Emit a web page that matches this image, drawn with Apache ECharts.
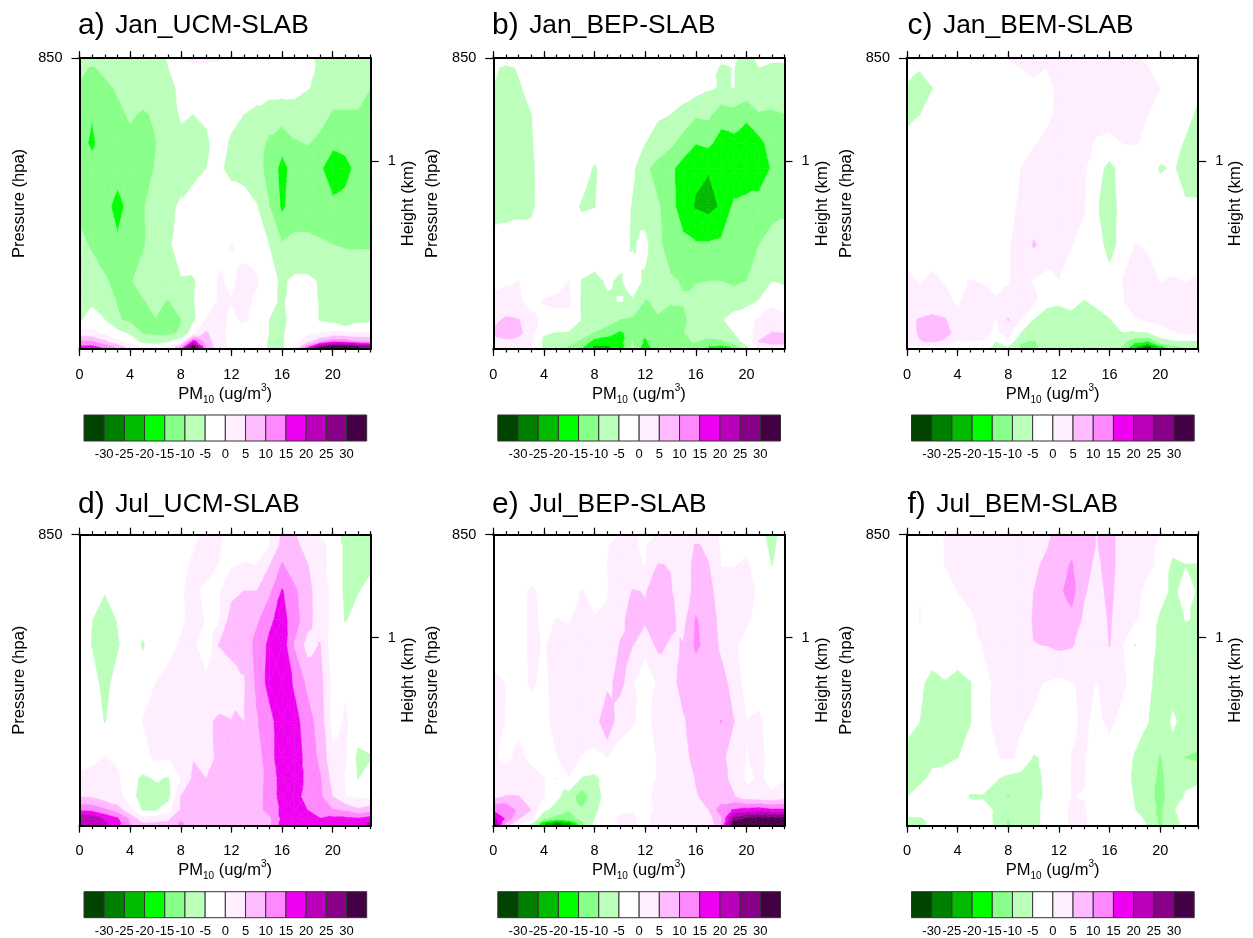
<!DOCTYPE html>
<html><head><meta charset="utf-8">
<style>html,body{margin:0;padding:0;background:#fff}#c{width:1253px;height:938px}</style>
<script src="https://cdn.jsdelivr.net/npm/echarts@6/dist/echarts.min.js"></script>
</head><body><div id="c"></div>
<script>
const hours=[0,1,2,3,4,5,6,7,8,9,10,11,12,13,14,15,16,17,18,19,20,21,22,23];
const pressure=[850,855.2,865.5,879.2,893.9,906.8,926.5,946.3,965,975.6,985,991.9,996.2,998.8,1000];
const hourTicks=[0,4,8,12,16,20];
const pressureTicks=[850];
const heightKmTick=[903];
const cbTicks=[-30,-25,-20,-15,-10,-5,0,5,10,15,20,25,30];
const cbEdges=[-35,-30,-25,-20,-15,-10,-5,0,5,10,15,20,25,30,35];
const cbColors=['#004400','#008000','#00BB00','#00FF00','#88FF88','#BBFFBB','#FFFFFF','#FFEEFF','#FFBBFF','#FF88FF','#F000F0','#BB00BB','#880088','#440044'];
const panelNames=['Jan_UCM-SLAB','Jan_BEP-SLAB','Jan_BEM-SLAB','Jul_UCM-SLAB','Jul_BEP-SLAB','Jul_BEM-SLAB'];
const panelTags=['a)','b)','c)','d)','e)','f)'];

const janUCM=[
[-8,-8,-8,-8,-8,-7,-6,-4.8,0.3,1,1,0.5,-1,-2,-2,-2,-2,-3,-4,-6,-7,-7,-7,-7],
[-9,-10.5,-9,-8,-8,-7,-6,-5,-3,-1,-1,-1,-2,-2,-2,-2,-2.5,-3,-4,-5.5,-7,-7,-7,-7],
[-10.5,-12,-11,-9.5,-8,-8,-7,-6,-4.2,-2,-2,-2,-2.5,-2.5,-3,-3,-3,-3.5,-4.7,-6,-8,-8,-8,-10],
[-11,-14.7,-12,-11,-9.5,-10.5,-9.5,-7,-4.5,-5,-4.5,-3,-4,-5,-6,-7.5,-8,-7,-8,-8.5,-10.5,-10.5,-10.5,-12],
[-13,-16,-12,-13,-11,-12,-10.2,-7.5,-6,-6,-5.5,-3.5,-5.5,-7,-8,-11,-13,-10.5,-9.8,-11,-14,-13,-12,-12],
[-12,-13,-13,-12.5,-13,-12,-9.7,-7.5,-7,-7,-5,-4,-6.5,-7.5,-9,-11,-17,-12.5,-12,-14.3,-17.5,-17,-13,-12],
[-11,-12,-13,-17,-13,-10.3,-8.5,-6,-4.3,-2,-2,-2,-2,-2,-4.5,-10,-16,-12,-12,-12,-14,-13,-12,-11.5],
[-9,-10.5,-11.5,-14,-12,-10.5,-8,-5.5,-3.5,-1.5,-1,-1,0.1,-1,-2,-5,-9.7,-9,-9,-9.5,-10,-10.3,-10.3,-10.3],
[-5.8,-8,-9.6,-11,-10.5,-8,-7,-6,-5.2,-5.3,-3,0.3,-0.5,1,0.5,-3.5,-5.6,-4,-4,-5.3,-7,-7.5,-8,-8],
[-5,-5.5,-8,-10.2,-11,-10.5,-8.5,-10.5,-7,-5,-3,0.5,0.1,1.5,-1,-4,-5.5,-3,-3,-5.2,-7,-7.5,-7.5,-7.5],
[-5.5,-3.5,-4.8,-9.5,-11,-11,-10.2,-11.5,-10.2,-5.5,0.3,0.7,-0.5,0.5,-1,-5,-6,-3,-3,-5.2,-6.5,-10.1,-6.5,-6],
[2,1.5,-1,-3,-5.5,-10.2,-11,-11,-9.5,-1,6,1,-1,-2,-2,-5,-5.5,-2,-1,0,1,1,0.5,0.5],
[11,10,6,1,-2,-6,-7,-5,-1,18,8,1.5,-1,-2,-2,-5.5,-5.5,-2,3,9,14,13,10,10],
[16,16,13,8,2,-1,-2,0,8,33,9,2,-1,-2,-2,-5.5,-5.5,0,12,27,33,33,30,25],
[17,17,15,10,3,0,-1,2,12,34,9,2,-1,-2,-2,-5.5,-5.5,1,18,33,34,34,31,18]];

const janBEP=[
[-2,-2,-2,-2,-2,-2,-2,-2,-2,-2,-2,-2,-2,-2,-2,-2,-2,-3,-4,-4.5,-6,-4,-4.5,-4.5],
[-4,-6,-4.5,-3,-2,-2,-2,-2,-2,-2,-2,-2,-2,-2,-2,-2,-2.5,-3,-5.5,-4.9,-6,-5,-5.5,-5.5],
[-5,-7,-5.5,-3.5,-2,-2,-2,-2,-2,-2,-2,-2,-2,-2,-2,-2,-3,-4.4,-5.3,-4.9,-7,-5,-7,-7],
[-6,-8,-7,-5,-2,-2,-2,-2,-2,-2,-2,-2,-3,-4.5,-5,-7,-9.5,-9,-13,-12,-13.5,-10.5,-10.8,-10.1],
[-6.5,-8,-7,-5.5,-2,-2,-2,-2,-2,-2,-2,-3,-4.9,-6.5,-9,-12,-14.8,-14,-17,-16.5,-19,-16.5,-13,-12],
[-7,-8,-7.5,-6,-2,-2.5,-2.5,-2.5,-5.5,-3,-2,-4,-9,-12,-14,-17,-19,-19.7,-19.5,-19,-19.5,-18,-14.5,-13],
[-7,-6.5,-6,-6,-2,-1.5,-3,-5.5,-5.1,-2,-1.5,-5.3,-7.5,-9.5,-13,-18,-20.5,-21.5,-19.5,-14,-13,-13,-12,-11],
[-3,-3,-3,-2.5,-2,-2,-2,-2,-2,-2,-3,-5.5,-3.5,-9,-12,-13.5,-14.5,-14.5,-14,-13,-12,-10,-8,-8],
[-0.5,-0.3,0,-1,-1,-1,0,-5.2,-6,-4.5,-5.5,-2.5,-5.8,-7.5,-9.5,-10.3,-10.3,-10,-10,-11,-10,-8,-5,-5.8],
[0.5,1,0.5,-1,0.2,0.5,0.5,-5.5,-6.5,-5.5,-4.8,-5.5,-10.5,-9,-9.7,-9.7,-8,-7,-7,-7,-6.5,-4.5,-0.5,-1],
[3.5,6,5.3,1,-1,-1,-1,-5.2,-6.5,-7.5,-10.2,-11,-12,-10.5,-12,-11,-8,-7,-5.4,-3,-1,0.5,1,0.5],
[6,7.5,7,1,-4.5,-5.2,-5.5,-8,-10.5,-13,-16,-13,-14,-11,-10.5,-10.2,-8,-7,-7.5,-5,-2,2,5.5,5],
[3,4,2.5,1,-6,-6.5,-8,-11,-17,-18,-17,-10,-16,-10.5,-10.5,-10.5,-9.7,-12,-11,-7,-3,5.5,7,7],
[1,1,1,0,-5.5,-6.5,-10.5,-14,-20.5,-20.5,-18,-9,-18,-10.5,-10.5,-10,-12,-15,-16.5,-14,-5.5,1,3,3],
[0.5,0.5,0.5,-1,-6,-7,-10.5,-15,-21,-21,-18,-9,-19,-10.5,-10.5,-10,-12,-15,-18,-15,-6,0,1.5,1.5]];

const janBEM=[
[-3,-3,-3,-3,0.2,-2,-2,-2,0.2,1.5,1.5,1.5,1.5,1.5,1.5,1.5,1.5,1.5,0.5,-0.5,-2,-2,-2,-2],
[-3.5,-4.8,-3,-2,-1,-2,-2,-2,-1,0,0.5,0,1,2,2,2,2,2,2,0.2,-2,-2,-2,-2],
[-5.5,-6,-5,-2,-1.5,-1.5,-1.5,-1.5,-1.5,-0.5,-0.5,-0.5,0.3,1.5,2,2,2,2,2,1.5,0,-1,-2,-4],
[-5.8,-5,-4,-2,-2,-2,-2,-2,-2,-1,-0.5,-0.5,0.5,1.5,1.5,1.5,1.5,1.5,1,0,-1,-2,-3,-6],
[-4,-3.5,-3,-2,-2,-2,-2,-2,-2,-1,-0.2,0.5,1,1.5,1,-0.5,-1,0,0.2,-0.5,-1.5,-3,-5.5,-7],
[-2,-2,-2,-2,-2,-2,-2,-2,-1,0,1,1,1,1,0.5,-3,-6.5,-3,-2,-2,-5.5,-4.5,-6.5,-7],
[-2,-2,-2,-2,-2,-2,-2,-2,-0.5,0.3,2,2,2,1.5,0.3,-4.5,-7.5,-3,-2,-2,-2,-2,-4.5,-4.5],
[-2,-2,-2,-2,-2,-2,-2,-1,-0.2,1,5.5,3.5,1.5,0.1,-1,-2.5,-7,-3,0.1,-0.3,-1.5,-2,-2,-2],
[1,-0.3,0.8,-0.3,-0.3,0.1,-0.2,-1.5,-0.2,1.5,-0.3,-1.5,-0.1,-1.5,-2,-3,-3,0,1,1,-0.1,0.3,-0.1,0.5],
[2,1,1.5,1,-0.5,1.5,1,0.5,0.8,2,1,-4,-4.5,-4,-5.2,-4,-2.5,-0.3,1.5,1.5,1,1,1,1],
[3.5,5.5,6.5,5.5,1,2,1,-0.1,5.5,-0.2,-5,-6.5,-6.5,-6,-7,-6.5,-5.2,-2.5,-0.3,0.3,1,1,1,1],
[3,5.5,8,7,3,2,1,-0.5,1,-5.1,-7,-7,-7,-7,-7,-7,-6.5,-5.1,-5.5,-5.2,-2,-0.2,0.2,0.5],
[2,4.8,5.5,4,-0.1,-0.1,-0.2,-5,-0.5,-9.5,-10.5,-8,-7.5,-7.5,-7.5,-7.5,-7,-8,-14,-15,-7,-5.5,-5.2,-5],
[-1,-1,-1,-1,-1,-2,-3.5,-5.5,-4.9,-10.5,-11,-8,-7.5,-7.5,-7.5,-7.5,-7,-10,-18,-27,-16,-11,-9,-9],
[-1,-1,-1,-1,-1.5,-3,-4.5,-6,-5,-10.5,-11,-8,-7.5,-7.5,-7.5,-7.5,-7.5,-12,-21,-29,-20,-13,-11,-10]];

const julUCM=[
[-5.5,-2,-2,-2,-2,-2,-2,-2,-2,-1,0.5,0.5,-1,-2,-4,-0.2,6,5.5,2,-0.2,-3,-6,-6,-7],
[-5.2,-2,-2,-2,-2,-2,-2,-2,-1.5,-0.2,1,0.2,-1,-1.5,-1,-0.2,6.5,7,2,1,-1,-6,-6.5,-7],
[-3,-2,-2,-2,-2,-2,-2,-1.5,-0.5,0.3,1,-0.1,-0.5,0.2,-0.05,4.8,10.5,7,5.3,1,-1,-6,-6,-6],
[-2,-2,-4.7,-2,-2,-2,-2,-1.5,-0.2,0.5,-0.5,-0.5,3.5,5.1,5.1,9,15.5,11,6.5,2.5,-1,-6,-5.2,-3],
[-2,-4.9,-7,-4.7,-2,-3,-2,-1.5,-0.5,1,-0.2,-0.5,7.5,8,9,14,17,12,7,2,-1,-5.3,-3,-2.5],
[-2,-5.2,-7.5,-5.5,-2,-5.5,-2,-1,0.3,1.5,-5.05,5.2,7,6,12,16,18,9.5,3,5.3,-3,-2,-2,-2],
[-2,-3,-6.5,-3,-2,-2,0,1,2,2,2,1.5,2,4.7,11,17,19,14,9,7,-1.5,-0.5,-2,-2],
[-2,-2.5,-5.2,-2,-2,0.1,1,2,2.5,2.5,4,5.8,5.2,5,9.5,13,18.5,17,12,8,-2,0.5,-2.5,-2],
[-2,-1,0.1,-0.5,-2,-1.5,0.8,0.3,1,4.8,3,6,7,7,7.5,13,18,18,13,9,1,0.3,-6,-5.3],
[0.8,1.5,1.5,0.5,-3.5,-5.8,-4.5,-5.3,-0.1,6,5,7,7,7,7.5,12,17,17,14,10.5,3,-0.2,-5.1,-2],
[4.8,4.5,2,1.5,-2,-8,-7,-6,5.2,7,7.5,7.5,7.5,7.5,8,12,17,17,13,11,5,0.05,-1,-1],
[14,13.5,11,7.5,1,-5.2,-5.2,-3,5.5,7,8,8,8,8,8,12,16,17,15,13,10.5,9,6,8],
[24,24,19,15.5,9,1,2,4,9,6,7.5,7.5,7.5,7.5,7.5,9,16,17,16,15,16,16,15,17],
[23,23,21,17,10,5.2,5.5,5.5,11,7,7.5,7.5,7.5,7.5,7.5,9,17,18,17,16,17,17,17,21],
[22,22,20.5,16,10,6,6,6,11,7,7.5,7.5,7.5,7.5,7.5,9,17,18,17,16,17,17,18,22]];

const julBEP=[
[-2,-2,-2,-2,-2,-2,-2,-2,-2,-1,0.1,0.5,-0.5,0.2,1,0.5,1.5,1.5,-0.3,-1.5,-2,-3.5,-6.5,-3],
[-2,-2,-2,-2,-2,-2,-2,-2,-1,-0.2,1,0.2,-0.3,2,1,2,5.5,4,-0.5,-0.5,-0.5,-3,-6,-3],
[-2,-2,-2,-2,-2,-2,-2,-1.5,-0.8,0,1.5,0.8,-0.1,5.2,4.8,1.5,7,5.2,-0.1,-0.1,0.3,-1,-5.1,-2],
[-2,-2,-1.5,0.5,-1,-2,-0.5,0.1,-0.5,-0.2,2,5.3,4.8,6.5,5.5,1.5,7,6.5,2.5,1,1,-0.5,-2,-2],
[-2,-2,-1,0.5,-0.5,0.1,-0.2,1,0.1,0.5,4,6.5,5.6,7,6,3.5,10.5,7.5,3.5,1,0.5,-1,-2,-2],
[-2,-2,-1,0.5,-0.2,0.8,1,1,1,2.5,5.2,5.2,2.5,6,4.5,5.2,11,8,4,0.5,-1,-2,-2,-2],
[1,-0.05,-1,0.3,-0.5,0.8,1,1,1,3.5,7,0.8,-5.05,1,3.5,6.5,6.5,7,7,3,-2,-2,-2,-2],
[1,-0.1,-0.5,-1,-0.8,1,1,1.5,2,10.1,1,0.3,-1,1,2.5,4.5,7,8,10.2,5.2,0.2,0.8,-2,-2],
[0.2,-0.5,0.5,-0.5,-2,-0.1,0.8,-0.2,-0.8,-0.05,-1,-2,-2,0.3,1.5,3.5,6.5,8,6,3,-0.2,1.5,-2,-2],
[1.5,1,1.5,0.8,0.1,-5.05,-0.05,-5.3,-6,-3,-2,-2,-1.5,0.2,0.8,2,5.3,8,6,4,-0.8,0.5,-1,-0.05],
[3,5.3,5.2,2.5,0.1,-4,-7,-13,-7,-3,-1.5,-2,-0.5,0.5,1,2,4.5,7,6,5.3,1.5,1,0.5,2],
[14,14.5,8.5,5,-4,-6.5,-9.8,-9.5,-6,-2,-0.5,-0.1,-1,0.5,1,1.5,2,5,13,15.5,17,18,16,16],
[22,14,5.5,1,-9,-12,-11,-9,-5,-1,0.5,0.2,-0.5,0.8,1.2,1,0.5,3,9,27,30,32,31,31],
[27,9,2,-4,-19,-26,-21,-11,-4,-1,0.3,0.2,-0.5,0.8,1.5,0.5,0,2,9,33,33,33,33,33],
[27,6,0.5,-6,-20,-30,-23,-12,-4,-1,-0.3,0.5,-0.5,1,1.5,0.5,-0.3,2,9,34,34,34,34,34]];

const julBEM=[
[-2,-2,-2,0.3,0.5,0.5,0.5,0.5,0.5,0.8,2,3.5,7,8,6.5,4.8,7,2.5,1.5,1,0.1,-2,-2,-2],
[-2,-2,-2,0.1,0.5,0.5,0.5,0.5,0.5,0.8,2.5,4.5,7,8.5,6.5,4.8,7,2.5,1.5,0.8,-0.5,-3,-2,-2],
[-2,-2,-1,0.05,0.5,0.5,1,1,1,1.5,4,6,8,10.5,6.5,4,7,2.5,1,0.3,-0.3,-6,-5.1,-5.2],
[-2,-0.1,-1,-0.8,0.05,0.5,1,1,1,2,5,6.5,9,12,5.5,3,6.5,2,0.5,-0.5,-3,-6,-3,-5.5],
[-2,0.1,-1.5,-2,-1.5,-0.3,0.5,1,1,2,5.5,7,9,8.5,4,2,5.7,1.5,0.3,-1,-5.8,-6.5,-4.8,-5.3],
[-2,-1,-2,-2,-2,-1.5,0.2,1,1,2,4.9,5.1,6,5.5,3,1.5,5.2,0.1,-5.1,-3,-6,-7,-7,-7],
[-2,-4,-6.5,-5.3,-6.5,-5.2,-1,0.5,0.7,1,0.5,-0.2,-1,-0.2,0.5,-0.1,2,0.5,-1,-4,-6.5,-6,-7,-7],
[-3.5,-4.9,-6.5,-7,-7,-5.2,-0.5,0.3,0.8,0.2,-0.3,-1.5,-1.5,-0.3,0.3,-0.5,0.5,-0.8,-2,-4.8,-6.5,-4.5,-6,-6],
[-6.5,-6.5,-6,-5.8,-5,-3,-1,-0.2,0.4,-0.5,-5.3,-4.5,-2,0.05,0.1,-1,-1,-2,-5.5,-6.5,-10.5,-6,-10.2,-11],
[-6,-6,-4,-3.5,-3,-3,-3,-4.5,-6,-7,-7.5,-3.5,-1.5,0.1,0.1,-1,-1.5,-2.5,-6,-7,-11.5,-7,-6,-5.5],
[-5,-3,-3,-3,-3,-5.3,-5.2,-6.5,-10.5,-7,-7,-4,-1.5,0.05,-0.1,-1,-1,-2,-5.3,-8,-12,-7,-4.5,-4],
[-2,-2,-2,-2,-2,-3,-4,-5.2,-7,-6,-6,-4,-1.5,0.5,0.2,-1,-1,-2,-4.8,-8,-11,-5.2,-4,-3.5],
[-5.5,-5.3,-4,-2,-2,-2,-3,-5.5,-10,-6,-6,-4,-1.5,0.5,0.2,-1,-1,-2,-3,-6,-11,-6,-3,-2],
[-5.8,-5.5,-4.5,-2,-2,-2,-3,-5.5,-10.5,-6,-6,-4,-1.5,0.5,0.2,-1,-1,-2,-3,-5.2,-11,-6,-4,-2],
[-5.8,-5.5,-4.5,-2,-2,-2,-3,-5.5,-10.5,-6,-6,-4,-1.5,0.5,0.2,-1,-1,-2,-3,-5.2,-11,-6,-4,-2]];

const panels=[janUCM,janBEP,janBEM,julUCM,julBEP,julBEM];
panels.forEach((p,k)=>{ if(p.length!==pressure.length) throw new Error('rows '+k);
  p.forEach((r,j)=>{ if(r.length!==hours.length) throw new Error('panel '+k+' row '+j+' len '+r.length); }); });

const FONT='"Liberation Sans",Arial,sans-serif';
const colLeft=[79.5,493.3,907], rowTop=[58,534.7], plotW=291.2, plotH=291;
const titleLeft=[73,487,902.5], titleTop=[5.5,485];

function clip(poly,limit,keepAbove){
  const out=[];
  for(let i=0;i<poly.length;i++){
    const a=poly[i],b=poly[(i+1)%poly.length];
    const ina=keepAbove?a[2]>=limit:a[2]<=limit, inb=keepAbove?b[2]>=limit:b[2]<=limit;
    if(ina) out.push(a);
    if(ina!==inb){ const t=(limit-a[2])/(b[2]-a[2]);
      out.push([a[0]+t*(b[0]-a[0]),a[1]+t*(b[1]-a[1]),limit]); }
  }
  return out;
}
function bandPolys(tri,children){
  const vs=tri.map(p=>p[2]); const mn=Math.min(...vs),mx=Math.max(...vs);
  for(let b=0;b<cbColors.length;b++){
    if(b===6) continue;
    const lo=b===0?-1e9:cbEdges[b], hi=b===cbColors.length-1?1e9:cbEdges[b+1];
    if(mx<lo||mn>hi) continue;
    let poly=clip(tri,lo,true); if(poly.length<3) continue;
    poly=clip(poly,hi,false); if(poly.length<3) continue;
    children.push({type:'polygon',shape:{points:poly.map(p=>[p[0],p[1]])},
      style:{fill:cbColors[b],stroke:cbColors[b],lineWidth:0.5},silent:true});
  }
}
function cellRenderer(values){
  return function(params,api){
    const i=api.value(2),j=api.value(3);
    const pt=(a,b)=>{const c=api.coord([hours[a],pressure[b]]);return [c[0],c[1],values[b][a]];};
    const A=pt(i,j),B=pt(i+1,j),C=pt(i+1,j+1),D=pt(i,j+1);
    const sorted=[A[2],B[2],C[2],D[2]].sort((p,q)=>p-q);
    const M=[(A[0]+B[0]+C[0]+D[0])/4,(A[1]+B[1]+C[1]+D[1])/4,(sorted[1]+sorted[2])/2];
    const children=[];
    [[A,B,M],[B,C,M],[C,D,M],[D,A,M]].forEach(t=>bandPolys(t,children));
    return {type:'group',children};
  };
}

const option={animation:false,backgroundColor:'#fff',title:[],grid:[],xAxis:[],yAxis:[],series:[]};
const cellData=[];
for(let j=0;j<pressure.length-1;j++)for(let i=0;i<hours.length-1;i++)cellData.push([hours[i],pressure[j],i,j]);
const cbData=cbColors.map((c,i)=>[cbEdges[i],cbEdges[i+1],i]);

panels.forEach((values,k)=>{
  const col=k%3,row=Math.floor(k/3),L=colLeft[col],T=rowTop[row];
  const gi=option.grid.length;
  option.title.push({left:titleLeft[col],top:titleTop[row],text:'{l|'+panelTags[k]+'} {t|'+panelNames[k]+'}',
    textStyle:{fontWeight:'normal',rich:{l:{fontFamily:FONT,fontSize:30,fontWeight:'normal',color:'#000',padding:[0,5.5,0,0]},t:{fontFamily:FONT,fontSize:26.4,fontWeight:'normal',color:'#000'}}}});
  option.grid.push({left:L,top:T,width:plotW,height:plotH});
  const xi=option.xAxis.length, yi=option.yAxis.length;
  const baseX={type:'value',gridIndex:gi,min:0,max:23,z:10,splitLine:{show:false},silent:true};
  const tickStyle={color:'#000',width:1.2};
  option.xAxis.push(Object.assign({},baseX,{position:'bottom',
    axisLine:{show:true,onZero:false,lineStyle:{color:'#000',width:2}},
    axisTick:{show:true,customValues:hourTicks,length:7,lineStyle:tickStyle},
    axisLabel:{show:true,customValues:hourTicks,margin:18,fontFamily:FONT,fontSize:14.5,color:'#000'},
    name:'{a|PM}{s|10}{a| (ug/m}{u|3}{a|)}',nameLocation:'middle',nameGap:34,nameMoveOverlap:false,
    nameTextStyle:{rich:{a:{fontFamily:FONT,fontSize:16.5,color:'#000',lineHeight:22},
      s:{fontFamily:FONT,fontSize:10,color:'#000',verticalAlign:'bottom',lineHeight:22},
      u:{fontFamily:FONT,fontSize:10,color:'#000',verticalAlign:'top',lineHeight:22}}}}));
  option.xAxis.push(Object.assign({},baseX,{position:'bottom',axisLine:{show:false,onZero:false},
    axisTick:{show:true,customValues:hours,length:3.5,lineStyle:tickStyle},axisLabel:{show:false}}));
  option.xAxis.push(Object.assign({},baseX,{position:'top',
    axisLine:{show:true,onZero:false,lineStyle:{color:'#000',width:2}},
    axisTick:{show:true,customValues:hourTicks,length:7,lineStyle:tickStyle},axisLabel:{show:false}}));
  option.xAxis.push(Object.assign({},baseX,{position:'top',axisLine:{show:false,onZero:false},
    axisTick:{show:true,customValues:hours,length:3.5,lineStyle:tickStyle},axisLabel:{show:false}}));
  const baseY={type:'value',gridIndex:gi,min:850,max:1000,inverse:true,z:10,splitLine:{show:false},silent:true,
    axisLine:{show:true,onZero:false,lineStyle:{color:'#000',width:2}}};
  option.yAxis.push(Object.assign({},baseY,{position:'left',
    axisTick:{show:true,customValues:pressureTicks,length:8,lineStyle:tickStyle},
    axisLabel:{show:true,customValues:pressureTicks,margin:17,fontFamily:FONT,fontSize:14.5,color:'#000'},
    name:'Pressure (hpa)',nameLocation:'middle',nameRotate:90,nameGap:52,nameMoveOverlap:false,
    nameTextStyle:{fontFamily:FONT,fontSize:16.5,color:'#000'}}));
  option.yAxis.push(Object.assign({},baseY,{position:'right',
    axisTick:{show:true,customValues:heightKmTick,length:8,lineStyle:tickStyle},
    axisLabel:{show:true,customValues:heightKmTick,margin:17,formatter:()=>'1',fontFamily:FONT,fontSize:14.5,color:'#000'},
    name:'Height (km)',nameLocation:'middle',nameRotate:90,nameGap:29,nameMoveOverlap:false,
    nameTextStyle:{fontFamily:FONT,fontSize:16.5,color:'#000'}}));
  option.series.push({type:'custom',coordinateSystem:'cartesian2d',xAxisIndex:xi,yAxisIndex:yi,z:2,
    data:cellData,encode:{x:0,y:1},renderItem:cellRenderer(values),silent:true,clip:true});
  const cbg=option.grid.length;
  option.grid.push({left:L+4.5,top:T+357,width:282.7,height:26});
  const cx=option.xAxis.length,cy=option.yAxis.length;
  option.xAxis.push({type:'value',gridIndex:cbg,min:-35,max:35,position:'bottom',splitLine:{show:false},
    axisLine:{show:false,onZero:false},axisTick:{show:false},silent:true,
    axisLabel:{show:true,customValues:cbTicks,margin:7,fontFamily:FONT,fontSize:13,color:'#000'}});
  option.yAxis.push({type:'value',gridIndex:cbg,min:0,max:1,show:false});
  option.series.push({type:'custom',coordinateSystem:'cartesian2d',xAxisIndex:cx,yAxisIndex:cy,silent:true,
    data:cbData,encode:{x:[0,1]},
    renderItem:(p,api)=>{const a=api.coord([api.value(0),1]),b=api.coord([api.value(1),0]);
      return {type:'rect',shape:{x:a[0],y:a[1],width:b[0]-a[0],height:b[1]-a[1]},
        style:{fill:cbColors[api.value(2)],stroke:'#333',lineWidth:1}};}});
});
const chart=echarts.init(document.getElementById('c'),null,{renderer:'canvas',width:1253,height:938});
chart.setOption(option);
</script></body></html>
